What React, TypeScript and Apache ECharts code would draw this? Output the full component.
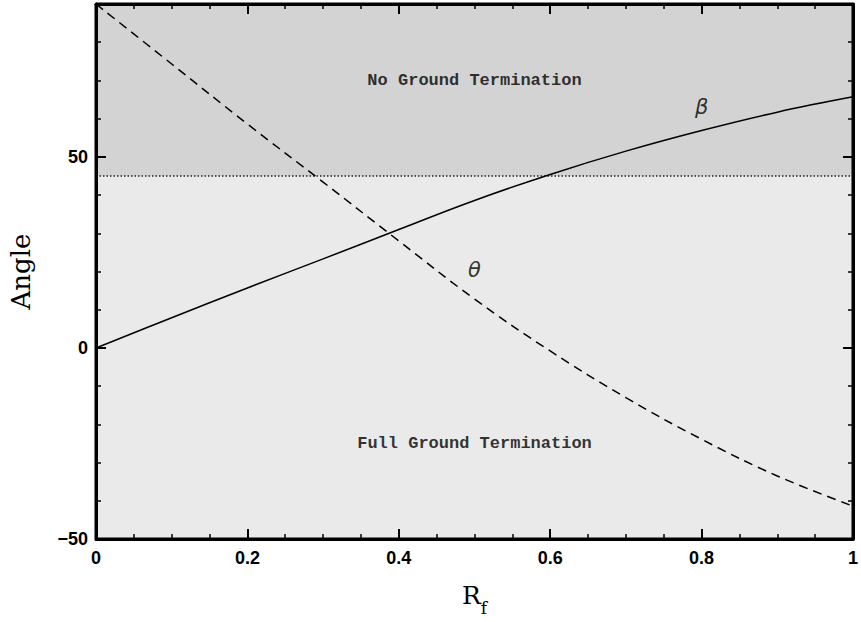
import React, { useEffect, useRef } from "react";
import * as echarts from "echarts";

const rfValues = [0, 0.1, 0.2, 0.3, 0.4, 0.5, 0.6, 0.7, 0.8, 0.9, 1.0];
const betaValues = [0, 7.9, 15.7, 23.3, 31.0, 38.6, 45.4, 51.5, 56.9, 61.7, 65.7];
const thetaValues = [90, 74.3, 58.6, 43.4, 28.0, 12.8, -0.8, -13.0, -23.9, -33.5, -41.4];
const thresholdAngle = 45;
const xRange = [0, 1];
const yRange = [-50, 90];
const regionLabels: [number, number, string][] = [
  [0.5, 70, "No Ground Termination"],
  [0.5, -25, "Full Ground Termination"],
];
const curveLabels: [number, number, string][] = [
  [0.8, 63, "β"],
  [0.5, 20.5, "θ"],
];

const tickFont = {
  fontFamily: "Liberation Sans, Arial, sans-serif",
  fontWeight: "bold" as const,
  fontSize: 18,
  color: "#000",
};

export default function App() {
  const ref = useRef<HTMLDivElement>(null);
  useEffect(() => {
    document.body.style.margin = "0";
    if (!ref.current) return;
    const chart = echarts.init(ref.current, undefined, { renderer: "svg" });
    const axisLine = () => ({ show: true, onZero: false, lineStyle: { color: "#000", width: 3 } });
    const majorTick = () => ({ show: true, inside: true, length: 10, lineStyle: { color: "#000", width: 2 } });
    const minorTickAxis = () => ({ show: true, inside: true, length: 5, lineStyle: { color: "#000", width: 1.5 } });
    const xBase = (pos: "bottom" | "top") => ({
      type: "value" as const,
      min: xRange[0],
      max: xRange[1],
      interval: 0.2,
      position: pos,
      z: 10,
      axisLine: axisLine(),
      axisTick: majorTick(),
      minorTick: { show: true, splitNumber: 4, length: 5, lineStyle: { color: "#000", width: 1.5 } },
      splitLine: { show: false },
      minorSplitLine: { show: false },
    });
    const yMajor = (pos: "left" | "right", labels: boolean) => ({
      type: "value" as const,
      min: yRange[0],
      max: yRange[1],
      interval: 50,
      position: pos,
      z: 10,
      axisLine: axisLine(),
      axisTick: majorTick(),
      splitLine: { show: false },
      axisLabel: labels
        ? {
            ...tickFont,
            margin: 8,
            formatter: (v: number) => (v === 90 ? "" : String(v).replace("-", "−")),
          }
        : { show: false },
    });
    const yMinor = (pos: "left" | "right") => ({
      type: "value" as const,
      min: yRange[0],
      max: yRange[1],
      interval: 10,
      position: pos,
      z: 10,
      axisLine: { show: false, onZero: false },
      axisTick: minorTickAxis(),
      splitLine: { show: false },
      axisLabel: { show: false },
    });
    const frame = [
      [xRange[0], yRange[0]],
      [xRange[1], yRange[0]],
      [xRange[1], yRange[1]],
      [xRange[0], yRange[1]],
      [xRange[0], yRange[0]],
    ];
    chart.setOption({
      animation: false,
      grid: {
        left: 96,
        right: 5,
        top: 4,
        bottom: 83,
        show: true,
        backgroundColor: "#eaeaea",
        borderWidth: 0,
      },
      xAxis: [
        {
          ...xBase("bottom"),
          axisLabel: { ...tickFont, margin: 10 },
          name: "{r|R}{f|f}",
          nameLocation: "middle",
          nameGap: 44,
          nameTextStyle: {
            rich: {
              r: { fontFamily: "DejaVu Serif, serif", fontSize: 25, color: "#000" },
              f: {
                fontFamily: "DejaVu Serif, serif",
                fontSize: 17,
                color: "#000",
                verticalAlign: "bottom",
                padding: [0, 0, -8, 0],
              },
            },
          },
        },
        { ...xBase("top"), axisLabel: { show: false } },
      ],
      yAxis: [
        {
          ...yMajor("left", true),
          name: "Angle",
          nameLocation: "middle",
          nameGap: 62,
          nameRotate: 90,
          nameTextStyle: { fontFamily: "DejaVu Serif, serif", fontSize: 26, color: "#000" },
        },
        yMinor("left"),
        yMajor("right", false),
        yMinor("right"),
      ],
      series: [
        {
          type: "line",
          name: "threshold",
          data: [],
          z: 1,
          markArea: {
            silent: true,
            itemStyle: { color: "#d3d3d3" },
            data: [[{ yAxis: thresholdAngle }, { yAxis: yRange[1] }]],
          },
          markLine: {
            silent: true,
            symbol: "none",
            label: { show: false },
            lineStyle: { color: "#222", type: [1.5, 2], width: 1.5 },
            data: [{ yAxis: thresholdAngle }],
          },
        },
        {
          type: "line",
          name: "frame",
          data: frame,
          clip: false,
          silent: true,
          showSymbol: false,
          symbol: "none",
          lineStyle: { color: "#000", width: 3 },
          z: 20,
        },
        {
          type: "line",
          name: "beta",
          data: rfValues.map((x, i) => [x, betaValues[i]]),
          smooth: 0.4,
          showSymbol: false,
          symbol: "none",
          lineStyle: { color: "#000", width: 1.5 },
          z: 5,
        },
        {
          type: "line",
          name: "theta",
          data: rfValues.map((x, i) => [x, thetaValues[i]]),
          smooth: 0.4,
          showSymbol: false,
          symbol: "none",
          lineStyle: { color: "#000", width: 1.5, type: [9, 6] },
          z: 5,
        },
        {
          type: "scatter",
          name: "regions",
          symbolSize: 0,
          data: regionLabels,
          z: 6,
          label: {
            show: true,
            position: "inside",
            formatter: (p: any) => p.value[2],
            fontFamily: "Liberation Mono, Courier New, monospace",
            fontWeight: "bold",
            fontSize: 17,
            color: "#000",
          },
        },
        {
          type: "scatter",
          name: "curves",
          symbolSize: 0,
          data: curveLabels,
          z: 6,
          label: {
            show: true,
            position: "inside",
            formatter: (p: any) => p.value[2],
            fontFamily: "DejaVu Sans, sans-serif",
            fontStyle: "italic",
            fontSize: 21,
            color: "#000",
          },
        },
      ],
    });
    return () => chart.dispose();
  }, []);
  return <div ref={ref} style={{ width: 861, height: 622 }} />;
}
